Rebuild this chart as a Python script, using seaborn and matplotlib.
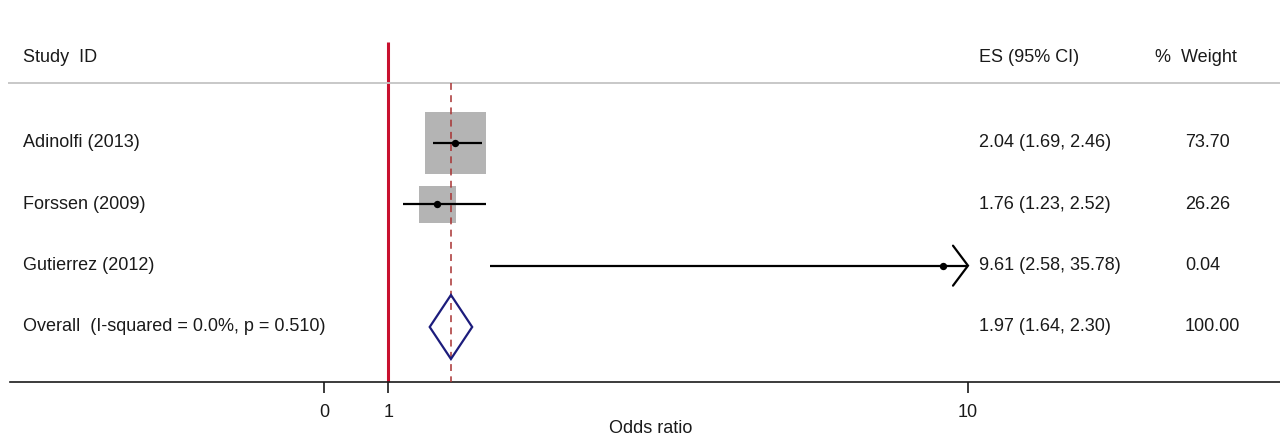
import matplotlib
matplotlib.use("Agg")
import matplotlib.pyplot as plt
import numpy as np
import pandas as pd
import seaborn as sns

# study-level results
studies = ["Adinolfi (2013)", "Forssen (2009)", "Gutierrez (2012)"]
es = [2.04, 1.76, 9.61]
ci_lo = [1.69, 1.23, 2.58]
ci_hi = [2.46, 2.52, 35.78]
weights = [73.70, 26.26, 0.04]

# pooled estimate
overall_es = 1.97
overall_lo = 1.64
overall_hi = 2.30
i_squared = 0.0
p_het = 0.510

xticks = [0, 1, 10]
x_clip = 10  # CIs beyond this get an arrow

sns.set_theme(style="white")
plt.rcParams["font.family"] = ["Liberation Sans", "DejaVu Sans"]

W, H = 1280, 438
fig = plt.figure(figsize=(W / 100, H / 100), dpi=100)
ax = fig.add_axes([0, 0, 1, 1])

# pixel layout of the Stata-style canvas
PX_PER_UNIT = 64.39
PX_ZERO = 324.1
ROW0, ROWH = 143, 61.33


def dx(p):
    return (p - PX_ZERO) / PX_PER_UNIT


def dy(p):
    return (p - ROW0) / ROWH


ax.set_xlim(dx(0), dx(W))
ax.set_ylim(dy(H), dy(0))

txt = dict(fontsize=13, color="#1a1a1a", va="center")
ytr = ax.get_yaxis_transform()

df = pd.DataFrame({"study": studies, "es": es, "lo": ci_lo, "hi": ci_hi,
                   "weight": weights, "row": np.arange(len(studies))})
ov_row = len(studies)

# reference lines
ax.vlines(1, dy(42), dy(382), color="#c8102e", lw=2.2, zorder=1)
ax.vlines(overall_es, dy(83), dy(382), color="#a83232", lw=1.1,
          linestyles=(0, (4.5, 3.5)), zorder=3)
ax.hlines(dy(83), dx(8), dx(W), color="#c4c4c4", lw=1.3, zorder=1)

# weight boxes
sns.scatterplot(data=df, x="es", y="row", size="weight", sizes=(0, 1929),
                size_norm=(0, 73.7), marker="s", color="#b4b4b4",
                linewidth=0, legend=False, ax=ax, zorder=2)

# confidence intervals
hi_draw = np.minimum(df["hi"], x_clip)
ax.hlines(df["row"], df["lo"], hi_draw, color="black", lw=1.6, zorder=4)
arm_x = 15 / PX_PER_UNIT
arm_y = 20 / ROWH
for r, h in zip(df["row"], df["hi"]):
    if h > x_clip:
        ax.plot([x_clip - arm_x, x_clip, x_clip - arm_x],
                [r - arm_y, r, r + arm_y], color="black", lw=1.6,
                zorder=4, solid_joinstyle="miter")

sns.scatterplot(data=df, x="es", y="row", color="black", s=28,
                linewidth=0, legend=False, ax=ax, zorder=5)

# pooled diamond
hd = 32 / ROWH
ax.fill([overall_lo, overall_es, overall_hi, overall_es],
        [ov_row, ov_row - hd, ov_row, ov_row + hd],
        facecolor="none", edgecolor="#1c1c7c", lw=1.6, zorder=5)

# text columns
ax.text(23 / W, dy(58), "Study  ID", transform=ytr, **txt)
ax.text(979 / W, dy(58), "ES (95% CI)", transform=ytr, **txt)
ax.text(1155 / W, dy(58), "%  Weight", transform=ytr, **txt)

for _, d in df.iterrows():
    ax.text(23 / W, d["row"], d["study"], transform=ytr, **txt)
    ax.text(979 / W, d["row"], f"{d['es']:.2f} ({d['lo']:.2f}, {d['hi']:.2f})",
            transform=ytr, **txt)
    ax.text(1185 / W, d["row"], f"{d['weight']:.2f}", transform=ytr, **txt)

ax.text(23 / W, ov_row,
        f"Overall  (I-squared = {i_squared:.1f}%, p = {p_het:.3f})",
        transform=ytr, **txt)
ax.text(979 / W, ov_row,
        f"{overall_es:.2f} ({overall_lo:.2f}, {overall_hi:.2f})",
        transform=ytr, **txt)
ax.text(1185 / W, ov_row, f"{sum(weights):.2f}", transform=ytr, **txt)

# x axis
for s in ["top", "left", "right"]:
    ax.spines[s].set_visible(False)
ax.spines["bottom"].set_position(("data", dy(382)))
ax.spines["bottom"].set_bounds(dx(10), dx(W))
ax.spines["bottom"].set_color("#1a1a1a")
ax.spines["bottom"].set_linewidth(1.2)
ax.set_xticks(xticks)
ax.set_xticklabels([str(t) for t in xticks])
ax.set_yticks([])
ax.tick_params(axis="x", bottom=True, direction="out", length=8, width=1.2,
               pad=7.5, labelsize=13, colors="#1a1a1a")
ax.grid(False)
ax.set_xlabel("")
ax.set_ylabel("")
ax.text(651 / W, dy(429), "Odds ratio", transform=ytr, ha="center",
        fontsize=13, color="#1a1a1a", va="center")

fig.savefig("out.png", dpi=100, facecolor="white")
